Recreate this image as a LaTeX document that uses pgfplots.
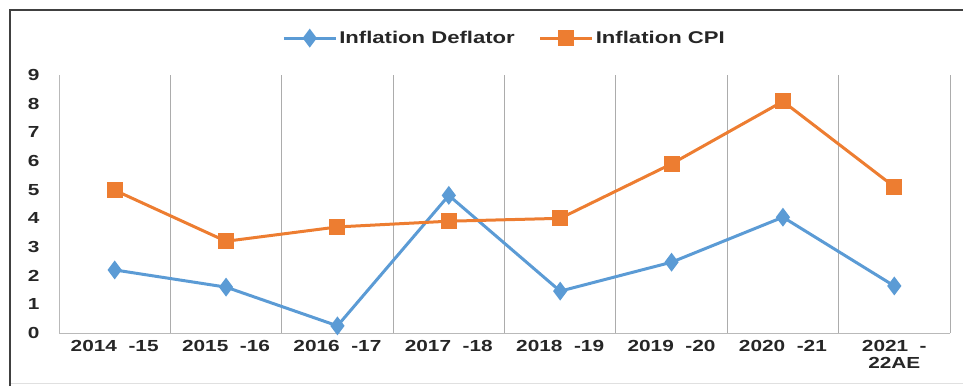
\documentclass[border=0pt]{standalone}
\usepackage{fontspec}
\setmainfont{Liberation Sans}[FakeStretch=1.3]
\usepackage{pgfplots}
\pgfplotsset{compat=1.18}
\definecolor{cblue}{HTML}{5B9BD5}
\definecolor{corange}{HTML}{ED7D31}
\begin{document}
\begin{tikzpicture}[x=1pt,y=1pt]
\begin{axis}[
  name=ax,
  at={(59pt,53pt)}, anchor=south west,
  width=891pt, height=258pt, scale only axis,
  xmin=-0.5, xmax=7.5, ymin=0, ymax=9,
  ytick={0,...,9},
  xtick={0,...,7},
  xticklabels={2014 \ -15,2015 \ -16,2016 \ -17,2017 \ -18,2018 \ -19,2019 \ -20,2020 \ -21,{2021 \ -\\22AE}},
  minor xtick={-0.5,0.5,...,7.5},
  xminorgrids=true,
  minor grid style={gray!65, line width=1pt},
  major tick length=0pt, minor tick length=0pt,
  axis lines*=left,
  axis line style={gray!55, line width=1pt, -},
  /pgf/number format/assume math mode=true,
  tick label style={font=\fontsize{16}{17}\selectfont\bfseries, text=black!85},
  xticklabel style={align=center, yshift=-4pt},
  yticklabel style={xshift=-16pt},
  legend columns=2,
  legend style={at={(0.5,1.143)}, anchor=center, draw=none, fill=none,
    font=\fontsize{17}{20}\selectfont\bfseries, text=black!85,
    /tikz/every even column/.append style={column sep=22pt}},
  legend image code/.code={\draw[mark repeat=2,mark phase=2] plot coordinates {(0pt,0pt)(26pt,0pt)(52pt,0pt)};},
]
\addplot[cblue, line width=3pt, mark=diamond*, mark size=7pt, mark options={solid}] coordinates {
(0,2.2) (1,1.6) (2,0.25) (3,4.8) (4,1.46) (5,2.47) (6,4.04) (7,1.64)};
\addlegendentry{Inflation Deflator}
\addplot[corange, line width=3pt, mark=square*, mark size=6.5pt, mark options={solid}] coordinates {
(0,4.98) (1,3.2) (2,3.7) (3,3.9) (4,4.0) (5,5.9) (6,8.08) (7,5.1)};
\addlegendentry{Inflation CPI}
\end{axis}
\draw[black!12, line width=1pt] (10pt,3pt) -- (963pt,3pt);
\draw[line width=2.5pt, black!75] (10pt,0pt) -- (10pt,376pt) -- (963pt,376pt);
\pgfresetboundingbox
\useasboundingbox (0pt,0pt) rectangle (963pt,386pt);
\end{tikzpicture}
\end{document}
